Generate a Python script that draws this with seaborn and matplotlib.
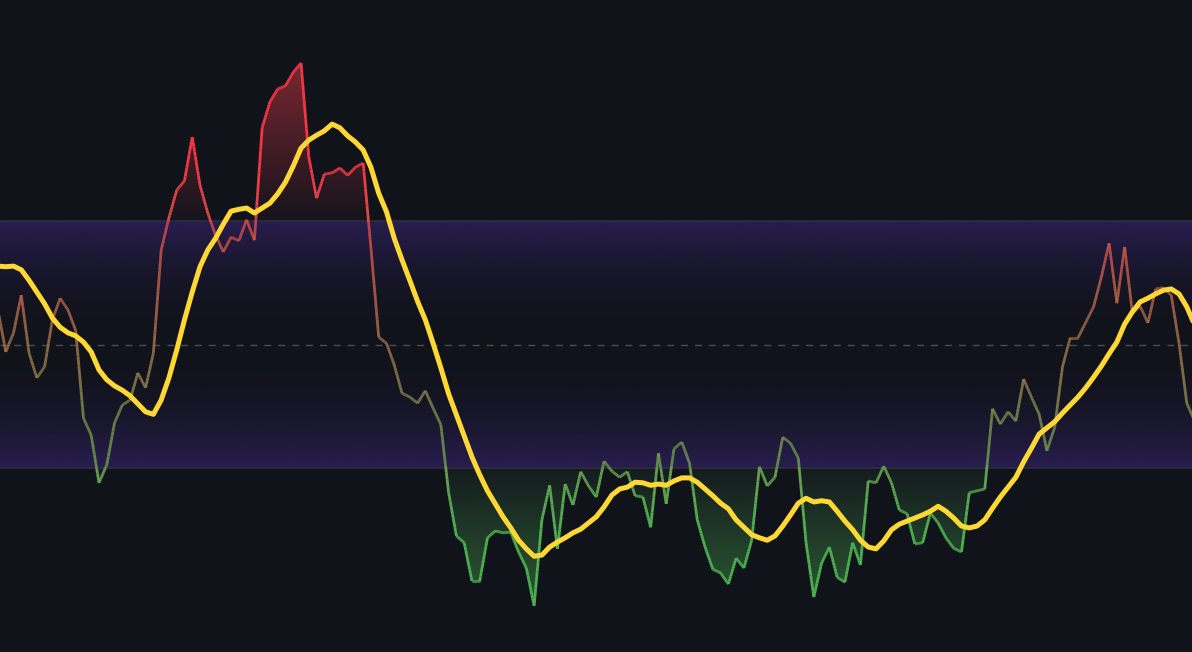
import numpy as np
import pandas as pd
import seaborn as sns
import matplotlib.pyplot as plt
from matplotlib.collections import LineCollection
from matplotlib.colors import LinearSegmentedColormap, Normalize, to_rgb
from matplotlib.path import Path

# RSI values (one per bar)
rsi = [55.6, 48.8, 51.9, 58.0, 48.6, 44.6, 46.4, 54.0, 57.5, 55.6,
       52.3, 38.1, 35.3, 27.6, 30.5, 37.3, 40.2, 41.0, 45.4, 43.0,
       48.6, 65.3, 70.5, 75.0, 76.5, 83.6, 75.8, 71.3, 67.7, 65.0,
       67.4, 66.8, 70.2, 66.9, 85.1, 89.3, 91.4, 91.9, 94.1, 95.6,
       80.4, 73.7, 77.6, 77.8, 78.6, 77.4, 78.7, 79.4, 65.6, 51.2,
       50.2, 46.7, 42.1, 41.5, 40.5, 42.5, 39.7, 37.0, 26.0, 19.0,
       17.9, 11.7, 11.7, 18.7, 19.8, 19.5, 19.6, 16.4, 13.8, 7.7,
       21.6, 27.2, 16.9, 27.4, 24.0, 29.4, 27.1, 25.3, 31.1, 29.5,
       28.5, 29.4, 25.5, 25.3, 20.4, 32.4, 24.2, 33.1, 34.2, 30.8,
       21.6, 17.2, 13.6, 13.0, 11.2, 15.4, 13.8, 18.3, 30.2, 27.1,
       28.5, 35.0, 34.0, 31.6, 17.9, 9.1, 14.6, 17.2, 12.3, 11.5,
       17.9, 14.3, 27.9, 27.6, 30.3, 27.6, 23.2, 22.6, 17.7, 17.9,
       22.7, 21.1, 18.7, 17.0, 16.4, 26.0, 26.3, 26.6, 39.6, 37.1,
       39.1, 37.6, 44.4, 41.5, 38.7, 32.8, 36.6, 46.4, 51.1, 51.1,
       53.6, 56.1, 60.9, 66.4, 56.7, 65.8, 55.1, 56.2, 53.5, 59.0,
       59.2, 58.0, 50.2, 40.5, 37.6]

# smoothed signal line (yellow)
signal = [62.7, 62.6, 62.7, 62.1, 60.4, 58.5, 56.6, 54.3, 52.8, 51.9,
          51.4, 50.4, 48.8, 45.9, 44.3, 43.3, 42.6, 41.7, 40.4, 39.1,
          38.7, 41.0, 44.6, 49.1, 54.0, 58.5, 62.6, 65.3, 67.2, 69.5,
          71.6, 71.9, 72.1, 71.3, 72.1, 72.9, 74.4, 76.3, 78.9, 81.8,
          83.1, 83.9, 84.6, 85.7, 85.1, 83.8, 82.8, 81.5, 78.7, 74.5,
          71.5, 67.2, 63.7, 60.4, 57.0, 54.0, 50.2, 46.2, 42.0, 38.6,
          35.2, 31.8, 28.9, 26.3, 24.2, 22.1, 20.3, 18.3, 16.9, 15.7,
          15.9, 17.2, 18.0, 18.7, 19.5, 20.1, 21.1, 22.1, 23.7, 25.6,
          26.6, 26.9, 27.7, 27.6, 27.2, 27.4, 27.2, 27.9, 28.4, 28.4,
          27.7, 26.6, 25.5, 24.3, 23.4, 21.6, 20.4, 19.2, 18.7, 18.3,
          19.0, 20.6, 22.4, 24.3, 25.1, 24.5, 24.7, 24.5, 23.0, 21.4,
          20.0, 18.3, 17.2, 16.9, 18.2, 20.0, 20.9, 21.4, 21.9, 22.4,
          23.0, 23.8, 23.0, 21.9, 20.6, 20.3, 20.6, 21.6, 23.5, 25.3,
          26.9, 28.5, 31.0, 33.2, 35.5, 36.5, 37.5, 38.9, 40.2, 41.5,
          43.0, 44.7, 46.5, 48.5, 50.4, 53.3, 55.3, 56.9, 57.5, 58.2,
          58.8, 59.0, 58.2, 56.1, 53.2]

upper, mid, lower = 70, 50, 30

df = pd.DataFrame({"bar": np.arange(len(rsi)), "rsi": rsi, "signal": signal})
n = len(df)

bg = "#11131b"
sns.set_theme(style="dark", rc={"axes.facecolor": bg, "figure.facecolor": bg})

fig = plt.figure(figsize=(11.92, 6.52), dpi=100)
ax = fig.add_axes([0, 0, 1, 1])
ax.set_facecolor(bg)

# purple band, stronger towards the edges
band_y = np.linspace(lower, upper, 300)
band = np.zeros((300, 1, 4))
band[:, 0, :3] = to_rgb("#2b1f56")
band[:, 0, 3] = (np.abs(band_y - mid) / 20) ** 2.2 * 0.9
ax.imshow(band, extent=[-1, n, lower, upper], origin="lower", aspect="auto", zorder=0)
ax.axhline(upper, color="#302c40", lw=1.2, zorder=1)
ax.axhline(lower, color="#302c40", lw=1.2, zorder=1)
ax.axhline(mid, color="#4a4d5a", lw=1, dashes=(5, 5), zorder=1)

# gradient fills outside the band
vals = df["rsi"].to_numpy()
over = ax.fill_between(df["bar"], vals, upper, where=vals >= upper, interpolate=True,
                       facecolor="none", edgecolor="none")
under = ax.fill_between(df["bar"], vals, lower, where=vals <= lower, interpolate=True,
                        facecolor="none", edgecolor="none")

red = np.zeros((200, 1, 4))
red[:, 0, :3] = to_rgb("#e23a45")
red[:, 0, 3] = np.linspace(0.02, 0.55, 200)
im = ax.imshow(red, extent=[0, n - 1, upper, 98], origin="lower", aspect="auto", zorder=1)
im.set_clip_path(Path.make_compound_path(*over.get_paths()), transform=ax.transData)

green = np.zeros((200, 1, 4))
green[:, 0, :3] = to_rgb("#4caf50")
green[:, 0, 3] = np.linspace(0.5, 0.06, 200)
im2 = ax.imshow(green, extent=[0, n - 1, 5, lower], origin="lower", aspect="auto", zorder=1)
im2.set_clip_path(Path.make_compound_path(*under.get_paths()), transform=ax.transData)

# RSI line coloured by its value
xf = np.linspace(0, n - 1, (n - 1) * 10 + 1)
yf = np.interp(xf, df["bar"], vals)
pts = np.column_stack([xf, yf]).reshape(-1, 1, 2)
segs = np.concatenate([pts[:-1], pts[1:]], axis=1)
cmap = LinearSegmentedColormap.from_list("rsi", ["#4caf50", "#f23645"])
midv = (yf[:-1] + yf[1:]) / 2
cols = cmap(Normalize(20, 80)(midv))
cols[:, 3] = np.where((midv > lower) & (midv < upper), 0.85, 1.0)
ax.add_collection(LineCollection(segs, colors=cols, linewidths=2.0, zorder=3))

# signal line
sns.lineplot(data=df, x="bar", y="signal", color="#fdd835", lw=3.6, ax=ax, zorder=5)

ax.set_xlim(0.26, 153.67)
ax.set_ylim(0.2, 105.8)
ax.axis("off")

plt.savefig("out.png", dpi=100, facecolor=bg)
plt.close()
